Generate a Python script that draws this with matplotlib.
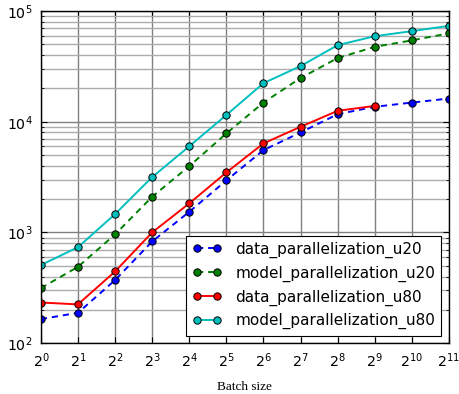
"""Throughput vs batch size, log-log, four parallelization configs."""

import matplotlib
matplotlib.use('Agg')
import matplotlib.pyplot as plt

# batch sizes (powers of two)
batch_sizes = [1, 2, 4, 8, 16, 32, 64, 128, 256, 512, 1024, 2048]

data_u20 = [165, 188, 371, 829, 1535, 2950, 5540, 8000, 11700, 13650, 14900, 16200]
model_u20 = [314, 489, 960, 2100, 3970, 7840, 14900, 24800, 37600, 47500, 54300, 62900]
data_u80 = [233, 224, 444, 1000, 1830, 3480, 6370, 9000, 12550, 13900]
model_u80 = [507, 736, 1463, 3160, 6000, 11500, 22300, 31800, 49200, 59200, 65800, 73500]

labels = ['data_parallelization_u20', 'model_parallelization_u20',
          'data_parallelization_u80', 'model_parallelization_u80']

plt.rcParams['font.size'] = 10
plt.rcParams['lines.scale_dashes'] = False
plt.rcParams['xtick.direction'] = 'in'
plt.rcParams['ytick.direction'] = 'in'
plt.rcParams['xtick.top'] = True
plt.rcParams['ytick.right'] = True

fig = plt.figure(figsize=(4.59, 3.94), dpi=100)
ax = fig.add_axes([0.089, 0.129, 0.889, 0.843])

style = dict(marker='o', markersize=5.3, markeredgecolor='k', markeredgewidth=0.7, lw=1.4)
ax.plot(batch_sizes, data_u20, color='#0000ff', ls='--', dashes=(4.5, 3.5),
        markerfacecolor='#0000ff', label=labels[0], **style)
ax.plot(batch_sizes, model_u20, color='#008000', ls='--', dashes=(4.5, 3.5),
        markerfacecolor='#008000', label=labels[1], **style)
ax.plot(batch_sizes[:len(data_u80)], data_u80, color='#ff0000', ls='-',
        markerfacecolor='#ff0000', label=labels[2], **style)
ax.plot(batch_sizes, model_u80, color='#00bfbf', ls='-',
        markerfacecolor='#00bfbf', label=labels[3], **style)

ax.set_xscale('log', base=2)
ax.set_yscale('log')
ax.set_xlim(1, 2048)
ax.set_ylim(100, 100000)
ax.set_xticks(batch_sizes)

ax.grid(True, which='major', color='0.5', lw=1, ls='-')
ax.grid(True, which='minor', axis='y', color='0.68', lw=1, ls='-')
ax.set_axisbelow(True)

ax.tick_params(which='major', length=4, width=0.8, pad=6, labelsize=10.2)
ax.tick_params(which='minor', length=2, width=0.6)
for s in ax.spines.values():
    s.set_linewidth(1)

ax.set_xlabel('Batch size', family='Liberation Serif', fontsize=9.5, labelpad=8)

leg = ax.legend(loc='lower right', numpoints=2, fancybox=False, framealpha=1,
                edgecolor='k', handlelength=1.9, handletextpad=0.9, fontsize=11,
                labelspacing=0.5, borderaxespad=0.5)
leg.get_frame().set_linewidth(0.8)

fig.savefig('out.png', dpi=100)
plt.close()
